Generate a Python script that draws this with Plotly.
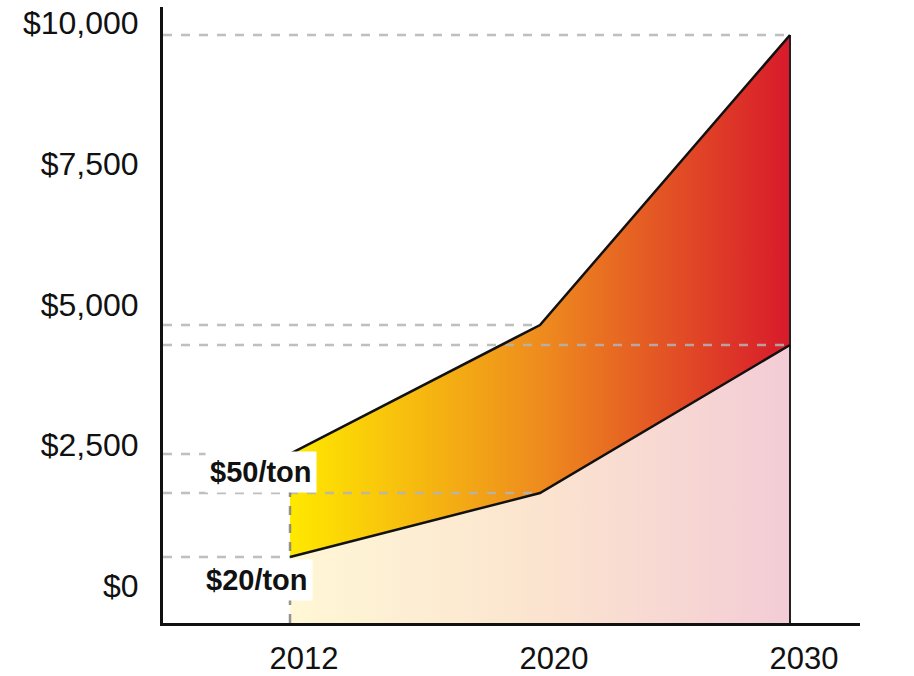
import plotly.graph_objects as go

# ---- data ----
years = ["2012", "2020", "2030"]
upper_50 = [2345, 4636, 9787]   # $50/ton scenario
lower_20 = [515, 1652, 4281]    # $20/ton scenario
y_ticks = [0, 2500, 5000, 7500, 10000]
y_tick_labels = ["$0", "$2,500", "$5,000", "$7,500", "$10,000"]
labels = ["$50/ton", "$20/ton"]

xs = list(range(len(years)))
X_MIN, X_MAX = -0.508, 2.28
Y_MIN, Y_MAX = -657, 10284

FONT = "Liberation Sans, Arial, sans-serif"
DASH_COL = "rgba(180,180,180,0.85)"

fig = go.Figure()

# baseline for pale area under the lower line
fig.add_trace(go.Scatter(x=xs, y=[Y_MIN] * len(xs), mode="lines",
                         line=dict(width=0), hoverinfo="skip", showlegend=False))
fig.add_trace(go.Scatter(
    x=xs, y=lower_20, mode="lines", line=dict(width=0), fill="tonexty",
    fillgradient=dict(type="horizontal",
                      colorscale=[[0, "#FFF7D6"], [0.5, "#FBE4CF"], [1, "#F3CCD6"]]),
    hoverinfo="skip", showlegend=False))
# band between scenarios
fig.add_trace(go.Scatter(
    x=xs, y=upper_50, mode="lines", line=dict(width=0), fill="tonexty",
    fillgradient=dict(type="horizontal",
                      colorscale=[[0, "#FFE900"], [0.5, "#EE8C1E"], [1, "#D81A2B"]]),
    hoverinfo="skip", showlegend=False))

# dashed reference lines from the y axis to each point
for vals in (upper_50, lower_20):
    for i, v in enumerate(vals):
        fig.add_trace(go.Scatter(x=[X_MIN, xs[i]], y=[v, v], mode="lines",
                                 line=dict(color=DASH_COL, width=2.5, dash="dash"),
                                 hoverinfo="skip", showlegend=False))

# left edge (dashed) and right edge (solid)
fig.add_trace(go.Scatter(x=[xs[0], xs[0]], y=[Y_MIN, upper_50[0]], mode="lines",
                         line=dict(color="rgba(120,120,120,0.8)", width=2.5, dash="dash"),
                         hoverinfo="skip", showlegend=False))
fig.add_trace(go.Scatter(x=[xs[-1], xs[-1]], y=[Y_MIN, upper_50[-1]], mode="lines",
                         line=dict(color="#222", width=2),
                         hoverinfo="skip", showlegend=False))

# boundary lines
for vals in (upper_50, lower_20):
    fig.add_trace(go.Scatter(x=xs, y=vals, mode="lines",
                             line=dict(color="#111", width=2.5),
                             hoverinfo="skip", showlegend=False))

# scenario labels
fig.add_annotation(x=xs[0], y=upper_50[0], text=labels[0], showarrow=False,
                   xshift=-29, yshift=-18, bgcolor="white", borderpad=4,
                   font=dict(family=FONT, size=29, color="#111", weight="bold"))
fig.add_annotation(x=xs[0], y=lower_20[0], text=labels[1], showarrow=False,
                   xshift=-33, yshift=-23, bgcolor="white", borderpad=4,
                   font=dict(family=FONT, size=29, color="#111", weight="bold"))

fig.update_layout(
    width=914, height=676,
    margin=dict(l=163, r=54, t=7, b=53, autoexpand=False),
    paper_bgcolor="white", plot_bgcolor="white",
    showlegend=False,
    font=dict(family=FONT, color="#111"),
)
fig.update_xaxes(range=[X_MIN, X_MAX], tickvals=xs, ticktext=years,
                 showgrid=False, zeroline=False, showline=True, automargin=False,
                 linecolor="#111", linewidth=3,
                 ticks="", ticklabelstandoff=6, ticklabelshift=14,
                 tickfont=dict(size=31, family=FONT, color="#111"))
fig.update_yaxes(range=[Y_MIN, Y_MAX], tickvals=y_ticks, ticktext=y_tick_labels,
                 showgrid=False, zeroline=False, showline=True, automargin=False,
                 linecolor="#111", linewidth=3,
                 ticks="", ticklabelstandoff=15,
                 tickfont=dict(size=32, family=FONT, color="#111"))

fig.write_html("out.html")
